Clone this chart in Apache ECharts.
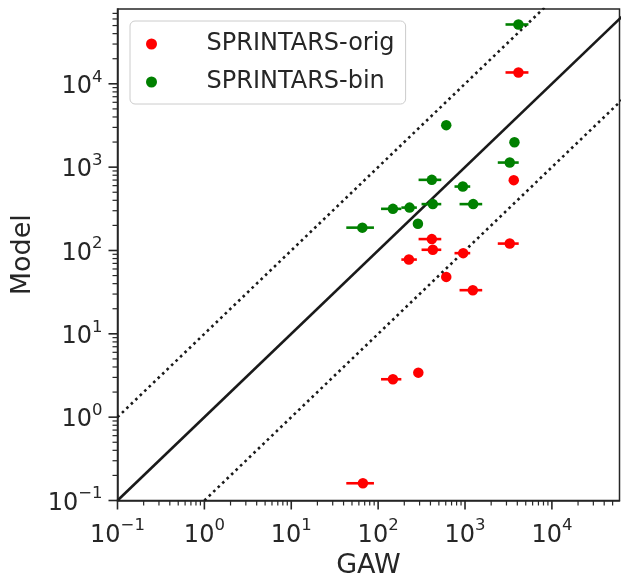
<!DOCTYPE html>
<html>
<head>
<meta charset="utf-8">
<script src="https://cdn.jsdelivr.net/npm/echarts@6/dist/echarts.min.js"></script>
<style>
html,body{margin:0;padding:0;background:#fff;}
#chart{width:621px;height:579px;}
</style>
</head>
<body>
<div id="chart"></div>
<script>
// ---- data ----
const seriesNames = ['SPRINTARS-orig', 'SPRINTARS-bin'];
// SPRINTARS-orig
const origGAW   = [4120, 3640, 415, 426, 3273, 953, 226, 608, 1230, 148, 290, 66.8];
const origModel = [13680, 698, 137, 102, 121, 92.9, 77.8, 48.2, 33.4, 2.85, 3.42, 0.161];
const origLow   = [2925, 3640, 292, 316, 2383, 757, 185, 608, 865, 108, 290, 43];
const origHigh  = [5370, 3640, 533, 533, 4150, 1148, 279, 608, 1577, 185, 290, 89.5];
// SPRINTARS-bin
const binGAW    = [4120, 608, 3707, 3273, 415, 944, 148, 230, 426, 1242, 65.8, 287];
const binModel  = [51500, 3190, 1986, 1135, 704, 585, 316, 327, 360, 360, 188, 209];
const binLow    = [2925, 608, 3400, 2383, 292, 757, 108, 185, 316, 865, 43, 287];
const binHigh   = [5370, 608, 4000, 4150, 533, 1148, 185, 279, 533, 1577, 89.5, 287];
// reference lines
const lineOneToOne = [[0.1, 0.1], [1e5, 1e5]];
const lineTimes10  = [[0.1, 1], [1e4, 1e5]];
const lineDiv10    = [[1, 0.1], [1e6, 1e5]];
// axes
const xRange = [0.1, 6e4];
const yRange = [0.1, 7.9e4];
const majorTicks = [0.1, 1, 10, 100, 1000, 10000];
const tickExponents = ['−1', '0', '1', '2', '3', '4'];

// ---- build ----
const FONT = 'DejaVu Sans';
const TXT = '#262626';
const RED = '#ff0000';
const GREEN = '#008000';

function minorTicksIn(range) {
  const out = [];
  for (let k = -2; k <= 5; k++) {
    for (let m = 2; m <= 9; m++) {
      const v = m * Math.pow(10, k);
      if (v > range[0] && v < range[1]) out.push(v);
    }
  }
  return out;
}
// tick items: [value on x, value on y, direction (0 = x axis, 1 = y axis), length]
const tickData = [];
majorTicks.forEach(v => { if (v >= xRange[0] && v <= xRange[1]) tickData.push([v, 1, 0, 9]); });
minorTicksIn(xRange).forEach(v => tickData.push([v, 1, 0, 5]));
majorTicks.forEach(v => { if (v >= yRange[0] && v <= yRange[1]) tickData.push([1, v, 1, 9]); });
minorTicksIn(yRange).forEach(v => tickData.push([1, v, 1, 5]));

function labelFor(v) {
  const e = Math.round(Math.log10(v));
  const i = majorTicks.findIndex(t => Math.round(Math.log10(t)) === e);
  return i >= 0 ? '{b|10}{s|' + tickExponents[i] + '}' : '';
}
const richLabel = {
  b: { fontSize: 24, fontFamily: FONT, color: TXT, lineHeight: 30, verticalAlign: 'bottom' },
  s: { fontSize: 16.5, fontFamily: FONT, color: TXT, lineHeight: 30, verticalAlign: 'top' }
};

function tickRender(params, api) {
  const cs = params.coordSys;
  const p = api.coord([api.value(0), api.value(1)]);
  const dir = api.value(2), len = api.value(3);
  const w = len > 6 ? 1.6 : 1.2;
  let shape;
  if (dir === 0) {
    const yb = cs.y + cs.height;
    shape = { x1: p[0], y1: yb, x2: p[0], y2: yb + len };
  } else {
    const xl = cs.x;
    shape = { x1: xl, y1: p[1], x2: xl - len, y2: p[1] };
  }
  return { type: 'line', shape: shape, style: { stroke: TXT, lineWidth: w } };
}

function errRender(color) {
  return function (params, api) {
    const y = api.value(1);
    const a = api.coord([api.value(2), y]);
    const b = api.coord([api.value(3), y]);
    return { type: 'line', shape: { x1: a[0], y1: a[1], x2: b[0], y2: b[1] },
      style: { stroke: color, lineWidth: 2.6 } };
  };
}

const origData = origGAW.map((x, i) => [x, origModel[i], origLow[i], origHigh[i]]);
const binData = binGAW.map((x, i) => [x, binModel[i], binLow[i], binHigh[i]]);

const chart = echarts.init(document.getElementById('chart'), null, { renderer: 'canvas' });
chart.setOption({
  animation: false,
  backgroundColor: '#fff',
  grid: { left: 117.5, right: 1.5, top: 9, bottom: 78.5, show: true, borderColor: TXT, borderWidth: 1.5,
    containLabel: false, outerBoundsMode: 'none' },
  legend: {
    data: seriesNames,
    orient: 'vertical', left: 130, top: 21,
    padding: [11, 11, 10, 16],
    itemWidth: 34, itemHeight: 11, itemGap: 14,
    icon: 'circle',
    backgroundColor: '#ffffff', borderColor: '#cccccc', borderWidth: 1, borderRadius: 5,
    textStyle: { fontSize: 24, fontFamily: FONT, color: TXT, padding: [0, 0, 0, 33], lineHeight: 22 }
  },
  xAxis: {
    type: 'log', logBase: 10, min: xRange[0], max: xRange[1], splitNumber: 5,
    name: 'GAW', nameLocation: 'middle', nameGap: 46,
    nameTextStyle: { fontSize: 27, fontFamily: FONT, color: TXT },
    axisLine: { show: true, lineStyle: { color: TXT, width: 1.5 } },
    axisTick: { show: false },
    splitLine: { show: false },
    axisLabel: { margin: 17, showMaxLabel: false, formatter: labelFor, rich: richLabel, hideOverlap: false }
  },
  yAxis: {
    type: 'log', logBase: 10, min: yRange[0], max: yRange[1], splitNumber: 5,
    name: 'Model', nameLocation: 'middle', nameGap: 76, nameRotate: 90,
    nameTextStyle: { fontSize: 27, fontFamily: FONT, color: TXT },
    axisLine: { show: true, lineStyle: { color: TXT, width: 1.5 } },
    axisTick: { show: false },
    splitLine: { show: false },
    axisLabel: { margin: 15, showMaxLabel: false, formatter: labelFor, rich: richLabel, hideOverlap: false }
  },
  series: [
    { name: 'ref1', type: 'line', data: lineOneToOne, showSymbol: false, clip: true, silent: true,
      lineStyle: { color: '#1a1a1a', width: 2.6 }, z: 1 },
    { name: 'ref10', type: 'line', data: lineTimes10, showSymbol: false, clip: true, silent: true,
      lineStyle: { color: '#1a1a1a', width: 2.6, type: [2.6, 3.6] }, z: 1 },
    { name: 'ref01', type: 'line', data: lineDiv10, showSymbol: false, clip: true, silent: true,
      lineStyle: { color: '#1a1a1a', width: 2.6, type: [2.6, 3.6] }, z: 1 },
    { name: 'ticks', type: 'custom', data: tickData, renderItem: tickRender, silent: true, clip: false, z: 10 },
    { name: 'origErr', type: 'custom', data: origData, renderItem: errRender(RED), silent: true, z: 2 },
    { name: seriesNames[0], type: 'scatter', data: origData, symbol: 'circle', symbolSize: 10.5,
      itemStyle: { color: RED, opacity: 1 }, z: 3 },
    { name: 'binErr', type: 'custom', data: binData, renderItem: errRender(GREEN), silent: true, z: 3 },
    { name: seriesNames[1], type: 'scatter', data: binData, symbol: 'circle', symbolSize: 10.5,
      itemStyle: { color: GREEN, opacity: 1 }, z: 4 }
  ]
});
</script>
</body>
</html>
